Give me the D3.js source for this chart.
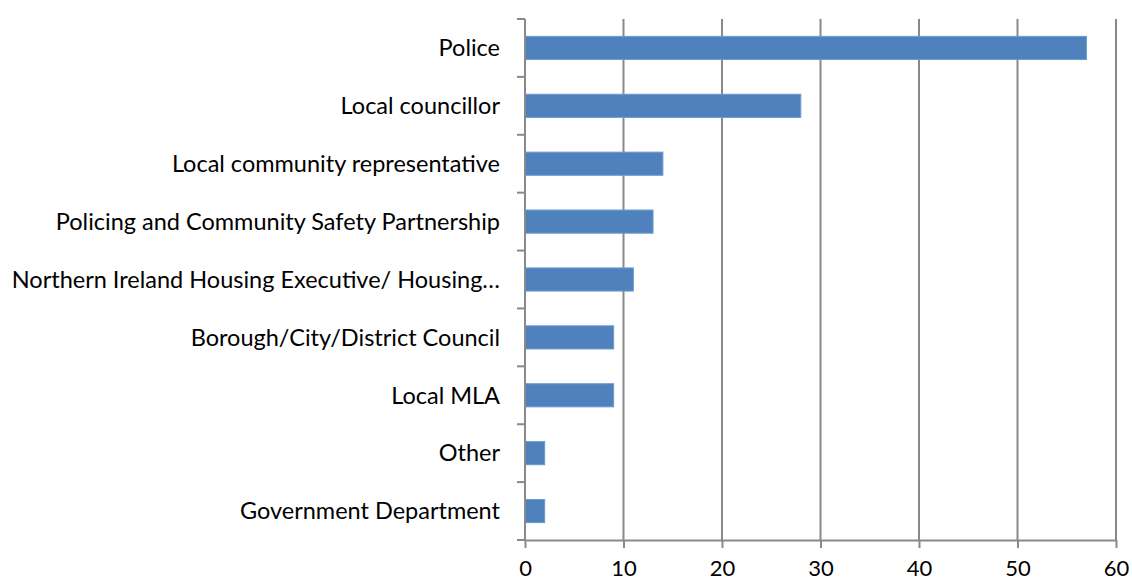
<!DOCTYPE html>
<html>
<head>
<meta charset="utf-8">
<script src="https://cdn.jsdelivr.net/npm/d3@7"></script>
<style>
  body { margin: 0; background: #fff; }
  text { font-family: Lato, "Open Sans", sans-serif; fill: #000; }
</style>
</head>
<body>
<div id="chart"></div>
<script>
var categories = ["Police", "Local councillor", "Local community representative",
  "Policing and Community Safety Partnership",
  "Northern Ireland Housing Executive/ Housing\u2026",
  "Borough/City/District Council", "Local MLA", "Other", "Government Department"];
var values = [57, 28, 14, 13, 11, 9, 9, 2, 2];
var xTicks = [0, 10, 20, 30, 40, 50, 60];

var W = 1132, H = 583;
var plotLeft = 525, plotRight = 1116, plotTop = 19, plotBottom = 540;

var svg = d3.select("#chart").append("svg")
  .attr("width", W).attr("height", H);

var x = d3.scaleLinear().domain([0, 60]).range([plotLeft, plotRight]);
var y = d3.scaleBand().domain(categories).range([plotTop, plotBottom]).paddingInner(0.6).paddingOuter(0.3);

// vertical gridlines
svg.append("g").selectAll("line").data(xTicks.slice(1)).join("line")
  .attr("x1", d => x(d)).attr("x2", d => x(d))
  .attr("y1", plotTop).attr("y2", plotBottom)
  .attr("stroke", "#898989").attr("stroke-width", 2);

// bars
svg.append("g").selectAll("rect").data(values).join("rect")
  .attr("x", x(0)).attr("y", (d, i) => y(categories[i]))
  .attr("width", d => x(d) - x(0)).attr("height", y.bandwidth())
  .attr("fill", "#4F81BD").attr("stroke", "#6f9bd0").attr("stroke-width", 1);

// x axis
var xAxis = svg.append("g").attr("transform", "translate(0," + plotBottom + ")")
  .call(d3.axisBottom(x).tickValues(xTicks).tickSize(8).tickSizeOuter(0).tickPadding(12));
xAxis.select(".domain").attr("stroke", "#898989").attr("stroke-width", 2);
xAxis.selectAll(".tick line").attr("stroke", "#898989").attr("stroke-width", 2);
xAxis.selectAll("text").attr("font-size", 22).attr("font-family", "Lato, sans-serif").attr("fill", "#000");

// y axis line and ticks at band boundaries
var step = (plotBottom - plotTop) / categories.length;
svg.append("line").attr("x1", x(0)).attr("x2", x(0)).attr("y1", plotTop).attr("y2", plotBottom)
  .attr("stroke", "#898989").attr("stroke-width", 2);
svg.append("g").selectAll("line").data(d3.range(categories.length + 1)).join("line")
  .attr("x1", x(0) - 8).attr("x2", x(0))
  .attr("y1", d => plotTop + d * step).attr("y2", d => plotTop + d * step)
  .attr("stroke", "#898989").attr("stroke-width", 2);

// category labels
svg.append("g").selectAll("text").data(categories).join("text")
  .attr("x", 500).attr("y", d => y(d) + y.bandwidth() / 2)
  .attr("dy", "0.35em").attr("text-anchor", "end")
  .attr("font-size", 23.5).text(d => d);
</script>
</body>
</html>
